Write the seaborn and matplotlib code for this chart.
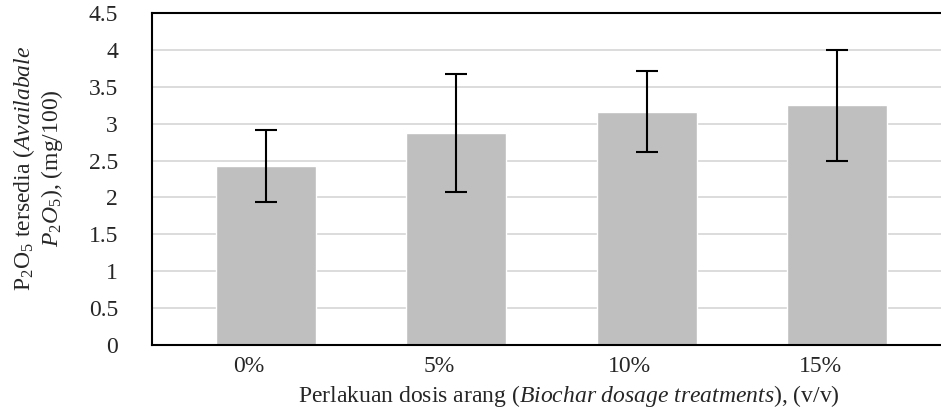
import numpy as np
import pandas as pd
import seaborn as sns
import matplotlib.pyplot as plt
import matplotlib.transforms as mtransforms

# data
doses = ['0%', '5%', '10%', '15%']
p2o5_mean = [2.43, 2.88, 3.16, 3.25]
p2o5_err = [0.49, 0.80, 0.55, 0.75]
yticks = [0, 0.5, 1, 1.5, 2, 2.5, 3, 3.5, 4, 4.5]
ytick_labels = ['0', '0.5', '1', '1.5', '2', '2.5', '3', '3.5', '4', '4.5']

df = pd.DataFrame({'dose': doses, 'mean': p2o5_mean, 'err': p2o5_err})

sns.set_theme(style='white')
plt.rcParams['font.family'] = ['Liberation Serif', 'DejaVu Serif']
plt.rcParams['mathtext.fontset'] = 'custom'
plt.rcParams['mathtext.rm'] = 'Liberation Serif'
plt.rcParams['mathtext.it'] = 'Liberation Serif:italic'

fig = plt.figure(figsize=(9.41, 4.12), dpi=100)
ax = fig.add_axes([0.1615, 0.1626, 0.8385, 0.8058])

sns.barplot(data=df, x='dose', y='mean', color='#bfbfbf', saturation=1,
            width=0.525, errorbar=None, ax=ax, zorder=2)
ax.errorbar(np.arange(len(doses)), df['mean'], yerr=df['err'], fmt='none',
            ecolor='black', elinewidth=1.5, capsize=7.8, capthick=1.5, zorder=3)

ax.set_ylim(0, 4.5)
ax.set_xlim(-0.599, 3.546)
ax.set_yticks(yticks)
ax.set_yticklabels(ytick_labels)
ax.yaxis.grid(True, color='#d9d9d9', linewidth=1.3, zorder=0)
ax.set_axisbelow(True)

for side in ['left', 'bottom', 'top']:
    ax.spines[side].set_color('black')
    ax.spines[side].set_linewidth(1.5)
ax.spines['right'].set_visible(False)

ax.tick_params(axis='y', direction='out', length=11.5, width=1.5, color='black',
               labelsize=17, pad=13)
ax.tick_params(axis='x', length=0, labelsize=17, pad=8)

# tick labels sit a little left of the bars in the reference
shift = mtransforms.ScaledTranslation(-17 / 100, 0, fig.dpi_scale_trans)
for lab in ax.get_xticklabels():
    lab.set_transform(lab.get_transform() + shift)

ax.set_xlabel('Perlakuan dosis arang ($\\it{Biochar\\ dosage\\ treatments}$), (v/v)',
              fontsize=17)
ax.xaxis.set_label_coords(0.529, -0.113)
ax.set_ylabel('P$_2$O$_5$ tersedia ($\\it{Availabale}$\n$\\it{P_2O_5}$), (mg/100)',
              fontsize=17, linespacing=1.1)
ax.yaxis.set_label_coords(-0.11, 0.533)

fig.savefig('out.png', dpi=100)
